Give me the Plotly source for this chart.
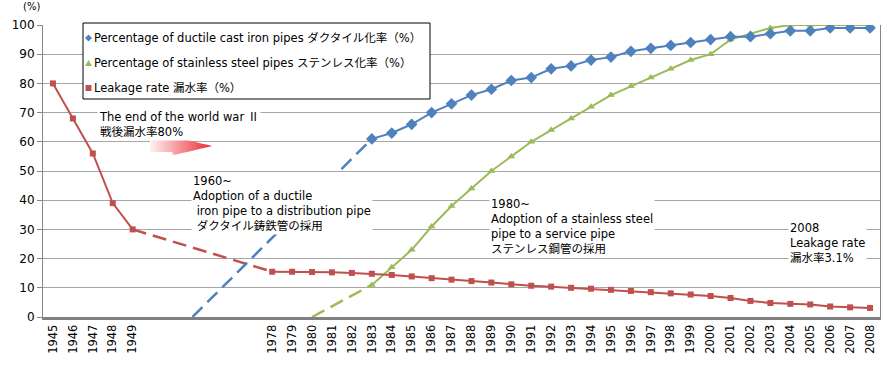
import plotly.graph_objects as go

# ---------------- data ----------------
postwar_years = [1945, 1946, 1947, 1948, 1949]
postwar_leak = [80, 68, 56, 39, 30]
gap_slots = 6  # empty category slots between 1949 and 1978
modern_years = list(range(1978, 2009))
modern_leak = [15.5, 15.5, 15.4, 15.3, 15.1, 14.8, 14.4, 13.9, 13.3, 12.8,
               12.3, 11.8, 11.2, 10.7, 10.4, 10.0, 9.7, 9.3, 8.9, 8.5,
               8.1, 7.7, 7.2, 6.5, 5.5, 4.8, 4.5, 4.3, 3.6, 3.3, 3.1]
pipe_years = list(range(1983, 2009))
ductile = [61, 63, 66, 70, 73, 76, 78, 81, 82, 85, 86, 88, 89, 91, 92, 93,
           94, 95, 96, 96, 97, 98, 98, 99, 99, 99]
stainless = [11, 17, 23, 31, 38, 44, 50, 55, 60, 64, 68, 72, 76, 79, 82, 85,
             88, 90, 95, 97, 99, 100, 100, 100, 100, 100]
ductile_origin_slot = 2      # gap slot where the ductile trend starts from 0
ductile_origin_value = 0
stainless_origin_year = 1980
stainless_origin_value = 0

y_ticks = list(range(0, 101, 10))

BLUE = "#4F81BD"
GREEN = "#9BBB59"
RED = "#C0504D"
FONT = "DejaVu Sans, Noto Sans CJK JP"
CJK = "Noto Sans CJK JP"


def pos(year):
    if year <= postwar_years[-1]:
        return year - postwar_years[0]
    return len(postwar_years) + gap_slots + (year - modern_years[0])


def gap_pos(slot):
    return len(postwar_years) + slot


tick_years = postwar_years + modern_years
n_slots = len(postwar_years) + gap_slots + len(modern_years)

fig = go.Figure()

DASH = "14px,7px"
# dashed connectors
fig.add_trace(go.Scatter(
    x=[pos(postwar_years[-1]), pos(modern_years[0])],
    y=[postwar_leak[-1], modern_leak[0]],
    mode="lines", line=dict(color=RED, width=2.5, dash=DASH),
    showlegend=False, hoverinfo="skip"))
fig.add_trace(go.Scatter(
    x=[gap_pos(ductile_origin_slot), pos(pipe_years[0])],
    y=[ductile_origin_value, ductile[0]],
    mode="lines", line=dict(color=BLUE, width=2.5, dash=DASH),
    showlegend=False, hoverinfo="skip"))
fig.add_trace(go.Scatter(
    x=[pos(stainless_origin_year), pos(pipe_years[0])],
    y=[stainless_origin_value, stainless[0]],
    mode="lines", line=dict(color=GREEN, width=2.5, dash=DASH),
    showlegend=False, hoverinfo="skip"))

# solid series
fig.add_trace(go.Scatter(
    x=[pos(y) for y in pipe_years], y=stainless, mode="lines+markers",
    line=dict(color=GREEN, width=2), marker=dict(symbol="triangle-up", size=7, color=GREEN),
    name="Percentage of stainless steel pipes ステンレス化率（%）", showlegend=False))
fig.add_trace(go.Scatter(
    x=[pos(y) for y in pipe_years], y=ductile, mode="lines+markers",
    line=dict(color=BLUE, width=2), marker=dict(symbol="diamond", size=9, color=BLUE),
    name="Percentage of ductile cast iron pipes ダクタイル化率（%）", showlegend=False))
fig.add_trace(go.Scatter(
    x=[pos(y) for y in postwar_years], y=postwar_leak, mode="lines+markers",
    line=dict(color=RED, width=2), marker=dict(symbol="square", size=6, color=RED),
    name="Leakage rate 漏水率（%）", showlegend=False))
fig.add_trace(go.Scatter(
    x=[pos(y) for y in modern_years], y=modern_leak, mode="lines+markers",
    line=dict(color=RED, width=2), marker=dict(symbol="square", size=6, color=RED),
    name="Leakage rate 漏水率（%）", showlegend=False))

# pixel helpers (plot area: x 43..880, y 25..317)
L, R, T, B = 43, 880, 25, 317


def px(x):
    return (x - L) / (R - L)


def py(y):
    return (B - y) / (B - T)


shapes = []
annotations = []

# legend box
shapes.append(dict(type="rect", xref="paper", yref="paper",
                   x0=px(83), x1=px(430), y0=py(99), y1=py(23),
                   line=dict(color="black", width=1), fillcolor="white", layer="above"))
legend_items = [
    ("Percentage of ductile cast iron pipes ダクタイル化率（%）", BLUE, "diamond", 38),
    ("Percentage of stainless steel pipes ステンレス化率（%）", GREEN, "triangle", 63),
    ("Leakage rate 漏水率（%）", RED, "square", 88),
]
for text, color, sym, yy in legend_items:
    cx = 88.5
    if sym == "diamond":
        path = f"M{px(cx-3.5)},{py(yy)} L{px(cx)},{py(yy-3.5)} L{px(cx+3.5)},{py(yy)} L{px(cx)},{py(yy+3.5)} Z"
    elif sym == "triangle":
        path = f"M{px(cx-3.5)},{py(yy+3)} L{px(cx)},{py(yy-3)} L{px(cx+3.5)},{py(yy+3)} Z"
    else:
        path = f"M{px(cx-3)},{py(yy-3)} L{px(cx+3)},{py(yy-3)} L{px(cx+3)},{py(yy+3)} L{px(cx-3)},{py(yy+3)} Z"
    shapes.append(dict(type="path", xref="paper", yref="paper", path=path,
                       fillcolor=color, line=dict(width=0), layer="above"))
    annotations.append(dict(xref="paper", yref="paper", x=px(92), y=py(yy),
                            xanchor="left", yanchor="middle", showarrow=False,
                            text=text, font=dict(family=FONT, size=11.5, color="black")))

# gradient arrow
x_start, x_body_end, x_tip = 150, 172, 212
y_mid = 146
body_half, head_half = 6, 9.5
steps = 31


def half(x):
    if x <= x_body_end:
        return body_half
    return head_half * (x_tip - x) / (x_tip - x_body_end)


for i in range(steps):
    a = x_start + (x_tip - x_start) * i / steps
    b = min(x_start + (x_tip - x_start) * (i + 1) / steps + 0.3, x_tip)
    t = i / (steps - 1)
    r = int(255 + (235 - 255) * t)
    g = int(240 + (45 - 240) * t)
    bb = int(240 + (55 - 240) * t)
    ha, hb = half(a), half(b)
    if a < x_body_end < b:
        path = (f"M{px(a)},{py(y_mid-ha)} L{px(x_body_end)},{py(y_mid-body_half)} "
                f"L{px(x_body_end)},{py(y_mid-head_half)} L{px(b)},{py(y_mid-hb)} "
                f"L{px(b)},{py(y_mid+hb)} L{px(x_body_end)},{py(y_mid+head_half)} "
                f"L{px(x_body_end)},{py(y_mid+body_half)} L{px(a)},{py(y_mid+ha)} Z")
    else:
        path = (f"M{px(a)},{py(y_mid-ha)} L{px(b)},{py(y_mid-hb)} "
                f"L{px(b)},{py(y_mid+hb)} L{px(a)},{py(y_mid+ha)} Z")
    shapes.append(dict(type="path", xref="paper", yref="paper", path=path,
                       fillcolor=f"rgb({r},{g},{bb})", line=dict(width=0), layer="above"))


# text annotations
def note(x, y_top, text):
    annotations.append(dict(xref="paper", yref="paper", x=px(x), y=py(y_top),
                            xanchor="left", yanchor="top", align="left", showarrow=False,
                            text=text, bgcolor="white", borderpad=1,
                            font=dict(family=FONT, size=11.5, color="black")))


note(97, 106, f"The end of the world war <span style=\"font-family:{CJK}\">Ⅱ</span><br>戦後漏水率80%")
note(191, 172, "1960~<br>Adoption of a ductile<br>\u00a0iron pipe to a distribution pipe<br>\u00a0ダクタイル鋳鉄管の採用")
note(489, 195, "1980~<br>Adoption of a stainless steel<br>pipe to a service pipe<br>ステンレス鋼管の採用")
note(788, 219, "2008<br>Leakage rate<br>漏水率3.1%")

annotations.append(dict(xref="paper", yref="paper", x=px(21), y=py(7),
                        xanchor="left", yanchor="middle", showarrow=False, text="(%)",
                        font=dict(family=FONT, size=10, color="black")))

fig.update_layout(
    width=891, height=368,
    margin=dict(l=L, r=891 - R, t=T, b=368 - B),
    paper_bgcolor="white", plot_bgcolor="white",
    font=dict(family=FONT, size=12, color="black"),
    shapes=shapes, annotations=annotations,
    xaxis=dict(range=[-0.5, n_slots - 0.5], tickmode="array",
               tickvals=[pos(y) for y in tick_years], ticktext=[str(y) for y in tick_years],
               tickangle=-90, tickfont=dict(size=11.5), showgrid=False, zeroline=False,
               showline=True, linecolor="#808080", linewidth=3, ticks="", automargin=False),
    yaxis=dict(range=[0, 100], tickvals=y_ticks, tickfont=dict(size=12),
               showgrid=True, gridcolor="#A6A6A6", gridwidth=1, zeroline=False,
               showline=True, linecolor="#868686", linewidth=1, mirror=True,
               ticks="outside", ticklen=5, tickcolor="#868686", automargin=False),
)

fig.write_html("out.html", config={"displayModeBar": False},
               post_script="document.body.style.margin='0';")
